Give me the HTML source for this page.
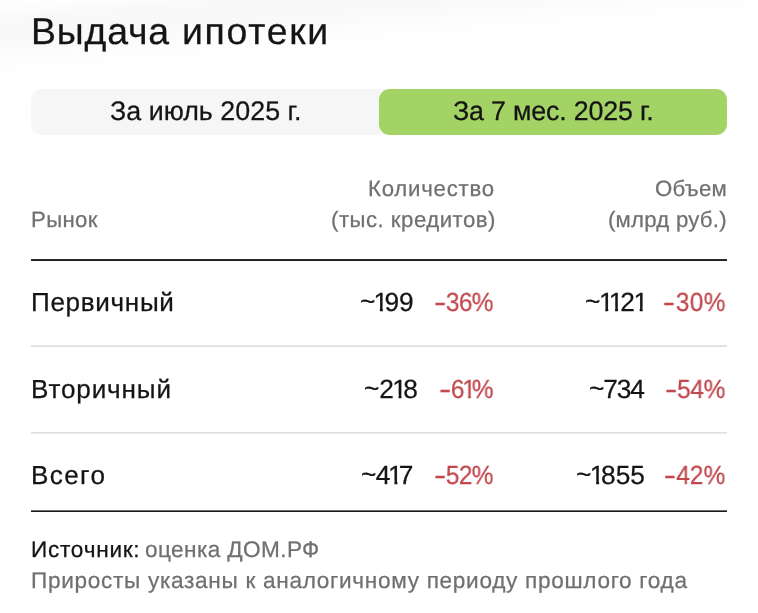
<!DOCTYPE html>
<html lang="ru"><head><meta charset="utf-8"><title>Выдача ипотеки</title>
<style>
html,body,h1{margin:0;padding:0}
h1{font:inherit}
body{width:758px;height:613px;position:relative;overflow:hidden;background:#fff;font-family:"Liberation Sans",sans-serif}
.bg{position:absolute;left:0;top:0;width:758px;height:613px;background:linear-gradient(175deg,#ffffff 0%,#fdfdfd 1.2%,#f9f9f9 3%,#f9f9f9 6.5%,#fdfdfd 9%,#ffffff 11.5%)}
.tabs{position:absolute;left:31px;top:89px;width:696px;height:46px;border-radius:10px;background:#f6f6f6}
.tab-on{position:absolute;left:379px;top:89px;width:348px;height:46px;border-radius:11px;background:#a3d365}
.ln{position:absolute;left:31px;width:696px}
.ln.d{height:2px;background:linear-gradient(#2e2e2e 50%,#1c1c1c 50%)}
.ln.d2{height:2px;background:linear-gradient(#6e6e6e 50%,#1a1a1a 50%)}
.ln.l{height:2px;background:linear-gradient(#e6e6e6 50%,#dfdfdf 50%)}
.ln.l2{height:2px;background:linear-gradient(#e0e0e0 50%,#ececec 50%)}
.t{position:absolute;white-space:nowrap;line-height:1;font-weight:400;-webkit-text-stroke:0.25px currentColor;will-change:transform;text-rendering:geometricPrecision}
.w{position:relative;top:-0.04em}
.m{display:inline-block;transform:scaleX(1.5);margin:0 0.12em 0 0.06em}
.o{display:inline-block;margin:0 -0.13em 0 -0.06em;clip-path:polygon(0 0,100% 0,100% 0.70em,0.352em 0.70em,0.352em 1em,0.24em 1em,0.24em 0.70em,0 0.70em)}
#title{left:30.52px;top:13px;font-size:37.40px;letter-spacing:0.844px;color:#141414}
#title2{left:182.40px;top:13px;font-size:37.40px;letter-spacing:1.712px;color:#141414}
#tab1{left:109.55px;top:98px;font-size:26.80px;letter-spacing:0.035px;color:#141414}
#tab2{left:452.77px;top:98px;font-size:26.80px;letter-spacing:-0.176px;color:#141414}
#h_mkt{left:31.33px;top:209px;font-size:22.20px;letter-spacing:0.328px;color:#707070}
#h_q1{left:367.91px;top:178px;font-size:22.20px;letter-spacing:0.780px;color:#707070}
#h_q2{left:330.74px;top:209px;font-size:22.20px;letter-spacing:0.490px;color:#707070}
#h_v1{left:654.75px;top:178px;font-size:22.20px;letter-spacing:0.294px;color:#707070}
#h_v2{left:608.25px;top:209px;font-size:22.20px;letter-spacing:0.229px;color:#707070}
#r1{left:30.54px;top:289px;font-size:26.10px;letter-spacing:0.669px;color:#141414}
#r1a{left:360.34px;top:289px;font-size:26.30px;letter-spacing:-0.224px;color:#141414}
#r1b{left:434.00px;top:289px;font-size:26.30px;letter-spacing:-0.702px;color:#c2484d;transform:scaleX(0.93);transform-origin:0 0}
#r1c{left:584.94px;top:289px;font-size:26.30px;letter-spacing:0.165px;color:#141414}
#r1d{left:663.12px;top:289px;font-size:26.30px;letter-spacing:0.327px;color:#c2484d;transform:scaleX(0.93);transform-origin:0 0}
#r2{left:31.10px;top:376px;font-size:26.10px;letter-spacing:0.859px;color:#141414}
#r2a{left:364.04px;top:376px;font-size:26.30px;letter-spacing:-0.101px;color:#141414}
#r2b{left:438.80px;top:376px;font-size:26.30px;letter-spacing:-0.797px;color:#c2484d;transform:scaleX(0.93);transform-origin:0 0}
#r2c{left:588.96px;top:376px;font-size:26.30px;letter-spacing:-1.108px;color:#141414}
#r2d{left:664.55px;top:376px;font-size:26.30px;letter-spacing:-0.392px;color:#c2484d;transform:scaleX(0.93);transform-origin:0 0}
#r3{left:30.62px;top:462px;font-size:26.10px;letter-spacing:1.385px;color:#141414}
#r3a{left:360.86px;top:462px;font-size:26.30px;letter-spacing:-0.661px;color:#141414}
#r3b{left:434.00px;top:462px;font-size:26.30px;letter-spacing:-0.698px;color:#c2484d;transform:scaleX(0.93);transform-origin:0 0}
#r3c{left:576.00px;top:462px;font-size:26.30px;letter-spacing:0.021px;color:#141414}
#r3d{left:664.30px;top:462px;font-size:26.30px;letter-spacing:-0.110px;color:#c2484d;transform:scaleX(0.93);transform-origin:0 0}
#f1a{left:31.07px;top:539px;font-size:22.60px;letter-spacing:0.739px;color:#141414}
#f1b{left:144.89px;top:539px;font-size:22.60px;letter-spacing:0.400px;color:#707070}
#f2{left:31.42px;top:570px;font-size:22.60px;letter-spacing:0.694px;color:#707070}
</style></head>
<body>
<div class="bg"></div>
<div class="tabs"></div><div class="tab-on"></div>
<div class="ln d" style="top:259px"></div>
<div class="ln l" style="top:345px"></div>
<div class="ln l2" style="top:432px"></div>
<div class="ln d2" style="top:510px"></div>
<h1><span class="t" id="title">Выдача</span> <span class="t" id="title2">ипотеки</span></h1>
<div class="t" id="tab1">За июль 2025 г.</div>
<div class="t" id="tab2">За 7 мес. 2025 г.</div>
<div class="t" id="h_mkt">Рынок</div>
<div class="t" id="h_q1">Количество</div>
<div class="t" id="h_q2">(тыс. кредитов)</div>
<div class="t" id="h_v1">Объем</div>
<div class="t" id="h_v2">(млрд руб.)</div>
<div class="t" id="r1">Первичный</div>
<div class="t" id="r1a" aria-label="~199"><span class="w">~</span><span class="o">1</span>99</div>
<div class="t" id="r1b" aria-label="-36%"><span class="m">-</span>36%</div>
<div class="t" id="r1c" aria-label="~1121"><span class="w">~</span><span class="o">1</span><span class="o">1</span>2<span class="o">1</span></div>
<div class="t" id="r1d" aria-label="-30%"><span class="m">-</span>30%</div>
<div class="t" id="r2">Вторичный</div>
<div class="t" id="r2a" aria-label="~218"><span class="w">~</span>2<span class="o">1</span>8</div>
<div class="t" id="r2b" aria-label="-61%"><span class="m">-</span>6<span class="o">1</span>%</div>
<div class="t" id="r2c" aria-label="~734"><span class="w">~</span>734</div>
<div class="t" id="r2d" aria-label="-54%"><span class="m">-</span>54%</div>
<div class="t" id="r3">Всего</div>
<div class="t" id="r3a" aria-label="~417"><span class="w">~</span>4<span class="o">1</span>7</div>
<div class="t" id="r3b" aria-label="-52%"><span class="m">-</span>52%</div>
<div class="t" id="r3c" aria-label="~1855"><span class="w">~</span><span class="o">1</span>855</div>
<div class="t" id="r3d" aria-label="-42%"><span class="m">-</span>42%</div>
<div class="t" id="f1a">Источник:</div>
<div class="t" id="f1b">оценка ДОМ.РФ</div>
<div class="t" id="f2">Приросты указаны к аналогичному периоду прошлого года</div>
</body></html>
